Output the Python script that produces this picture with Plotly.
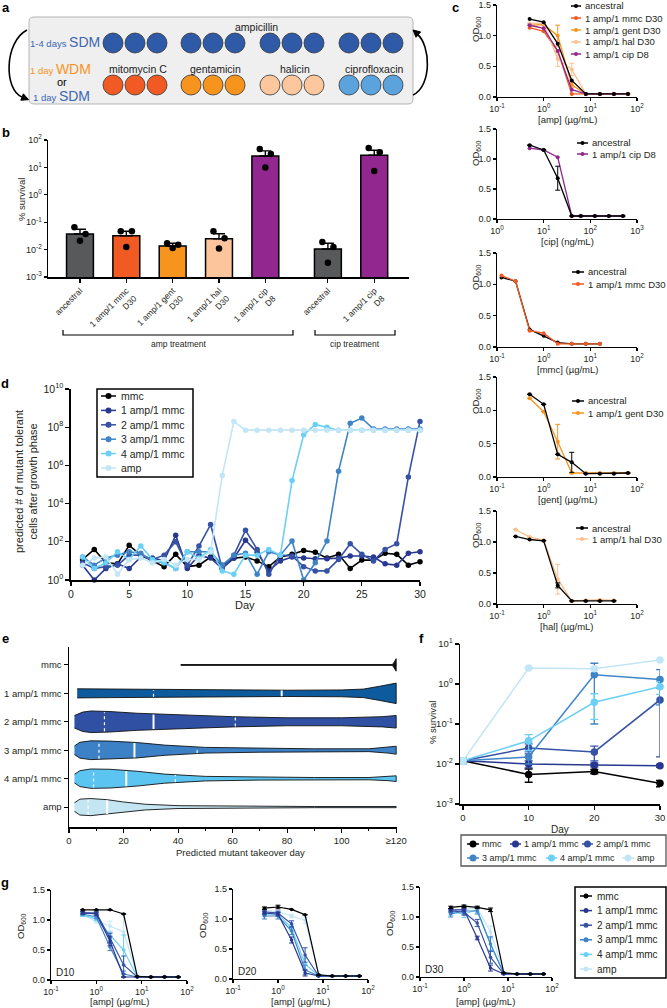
import plotly.graph_objects as go
import numpy as np

W, H = 667, 1008
FONT = "Liberation Sans, Arial, Helvetica, sans-serif"
INK = "#231f20"

# ======================= DATA =======================
# (a) schematic
a_top_label = "ampicillin"
a_bottom_labels = ["mitomycin C", "gentamicin", "halicin", "ciprofloxacin"]
a_bottom_colors = ["#f15a22", "#f7941d", "#fdc79d", "#5aa3dc"]
a_top_color = "#2e5aa8"

# (b) % survival
b_labels = ["ancestral", "1 amp/1 mmc<br>D30", "1 amp/1 gent<br>D30", "1 amp/1 hal<br>D30",
            "1 amp/1 cip<br>D8", "ancestral", "1 amp/1 cip<br>D8"]
b_means = [0.037, 0.032, 0.0135, 0.025, 26, 0.0105, 28]
b_err = [0.018, 0.015, 0.0035, 0.013, 14, 0.0065, 14]
b_rep1 = [0.066, 0.047, 0.017, 0.047, 47, 0.019, 51]
b_rep2 = [0.037, 0.047, 0.015, 0.026, 31, 0.0125, 36]
b_rep3 = [0.021, 0.0125, 0.0115, 0.011, 10, 0.0033, 7.4]
b_colors = ["#58595b", "#f15a22", "#f7941d", "#fcc59c", "#92278f", "#58595b", "#92278f"]
b_groups = ["amp treatment", "cip treatment"]

# (c) OD600 dose responses
c_amp_conc = [0.5, 1, 2, 4, 8, 16, 32, 64]
c_amp_ancestral = [1.27, 1.22, 0.87, 0.27, 0.05, 0.05, 0.05, 0.05]
c_amp_mmc = [1.13, 1.07, 0.75, 0.05, 0.05, 0.05, 0.05, 0.05]
c_amp_gent = [1.17, 1.18, 1.00, 0.20, 0.05, 0.05, 0.05, 0.05]
c_amp_gent_err = [0, 0, 0.17, 0.04, 0, 0, 0, 0]
c_amp_hal = [1.20, 1.20, 0.62, 0.45, 0.05, 0.05, 0.05, 0.05]
c_amp_hal_err = [0, 0, 0.12, 0.10, 0, 0, 0, 0]
c_amp_cip = [1.17, 1.12, 0.75, 0.12, 0.05, 0.05, 0.05, 0.05]

c_cip_conc = [5, 10, 20, 40, 62.5, 125, 250, 500]
c_cip_ancestral = [1.23, 1.15, 0.68, 0.05, 0.05, 0.05, 0.05, 0.05]
c_cip_ancestral_err = [0, 0, 0.20, 0, 0, 0, 0, 0]
c_cip_cip = [1.18, 1.15, 1.03, 0.05, 0.05, 0.05, 0.05, 0.05]

c_mmc_conc = [0.125, 0.25, 0.5, 1, 2, 4, 8, 16]
c_mmc_ancestral = [1.11, 1.05, 0.28, 0.18, 0.07, 0.05, 0.05, 0.05]
c_mmc_mmc = [1.14, 1.05, 0.26, 0.22, 0.05, 0.05, 0.05, 0.05]

c_gent_conc = [0.5, 1, 2, 4, 8, 16, 32, 64]
c_gent_ancestral = [1.24, 1.09, 0.34, 0.22, 0.05, 0.05, 0.05, 0.06]
c_gent_ancestral_err = [0, 0, 0, 0.15, 0, 0, 0, 0]
c_gent_gent = [1.18, 0.98, 0.53, 0.06, 0.06, 0.06, 0.06, 0.06]
c_gent_gent_err = [0, 0, 0.26, 0, 0, 0, 0, 0]

c_hal_conc = [0.25, 0.5, 1, 2, 4, 8, 16, 32]
c_hal_ancestral = [1.09, 1.04, 1.02, 0.30, 0.05, 0.05, 0.05, 0.05]
c_hal_ancestral_err = [0, 0, 0, 0.04, 0, 0, 0, 0]
c_hal_hal = [1.20, 1.08, 1.03, 0.40, 0.05, 0.06, 0.07, 0.06]
c_hal_hal_err = [0, 0, 0, 0.24, 0, 0, 0, 0]

c_colors = {"ancestral": "#000000", "mmc": "#f15a22", "gent": "#f7941d",
            "hal": "#fbc08f", "cip": "#92278f"}

# (d) predicted number of mutant tolerant cells
d_days = list(range(1, 31))
d_mmc = [12, 40, 8, 7, 65, 20, 10, 5, 22, 5, 6, 16, 6, 14, 16, 10, 5, 16, 22, 35,
         28, 14, 22, 4, 11, 11, 25, 22, 6, 9]
d_1amp = [6, 1, 4, 7, 4, 16, 14, 10, 220, 4, 20, 14, 4, 14, 120, 28, 3, 10, 16, 14,
          13, 13, 14, 18, 18, 16, 7, 6, 25, 30]
d_2amp = [8, 4, 5, 6, 20, 20, 12, 20, 100, 6, 60, 800, 4, 20, 400, 40, 2, 20, 18, 5,
          3, 3, 12, 80, 22, 10, 40, 80, 2.5e5, 2e8]
d_3amp = [16, 6, 14, 20, 30, 25, 10, 8, 4, 30, 30, 30, 6, 20, 25, 2, 30, 20, 110, 1,
          8, 110, 5e5, 1.6e8, 3e8, 8e7, 8e7, 8e7, 8e7, 8e7]
d_4amp = [16, 4, 8, 30, 12, 60, 12, 8, 4, 30, 14, 40, 3, 2, 20, 20, 40, 20, 1.6e5, 4e7,
          1.4e8, 1e8, 7e7, 7e7, 7e7, 7e7, 7e7, 7e7, 7e7, 7e7]
d_amp = [6, 14, 16, 2, 12, 14, 8, 12, 6, 12, 12, 30, 3e5, 2e8, 7e7, 7e7, 7e7, 7e7, 7e7, 7e7,
         7e7, 7e7, 7e7, 7e7, 7e7, 7e7, 7e7, 7e7, 7e7, 7e7]
series_names = ["mmc", "1 amp/1 mmc", "2 amp/1 mmc", "3 amp/1 mmc", "4 amp/1 mmc", "amp"]
series_colors = ["#000000", "#283891", "#3652a5", "#3e84c6", "#6ccff6", "#c2e6f6"]

# (e) violin profiles (day, half-width in row units)
e_rows = ["mmc", "1 amp/1 mmc", "2 amp/1 mmc", "3 amp/1 mmc", "4 amp/1 mmc", "amp"]
e_colors = ["#111111", "#0d5a9c", "#3050a4", "#3c80c6", "#5cc4f0", "#c4e5f2"]
e_mmc_day = [41, 118.6, 119.3, 119.8, 120]
e_mmc_hw = [0.012, 0.012, 0.10, 0.19, 0.22]
e_1amp_day = [3, 15, 40, 80, 100, 108, 114, 118, 120]
e_1amp_hw = [0.16, 0.15, 0.12, 0.11, 0.12, 0.15, 0.25, 0.33, 0.36]
e_2amp_day = [2, 5, 8, 15, 25, 40, 60, 80, 100, 115, 120]
e_2amp_hw = [0.22, 0.34, 0.38, 0.36, 0.30, 0.24, 0.18, 0.14, 0.14, 0.18, 0.22]
e_3amp_day = [2, 4, 8, 15, 25, 35, 50, 70, 90, 110, 117, 120]
e_3amp_hw = [0.15, 0.28, 0.33, 0.32, 0.27, 0.18, 0.10, 0.07, 0.05, 0.05, 0.10, 0.14]
e_4amp_day = [2, 4, 8, 15, 25, 35, 50, 70, 90, 110, 117, 120]
e_4amp_hw = [0.15, 0.28, 0.34, 0.33, 0.26, 0.16, 0.08, 0.05, 0.04, 0.04, 0.07, 0.10]
e_amp_day = [2, 4, 8, 14, 20, 28, 40, 60, 90, 120]
e_amp_hw = [0.15, 0.28, 0.30, 0.26, 0.18, 0.10, 0.05, 0.03, 0.02, 0.02]
e_q1 = [None, 31, 13, 11, 9, 7]
e_median = [None, 78, 31, 24, 21, 14]
e_q3 = [None, None, 61, 47, 39, None]
e_xticks = [0, 20, 40, 60, 80, 100, 120]
e_xticktext = ["0", "20", "40", "60", "80", "100", "≥120"]

# (f) % survival over time
f_days = [0, 10, 20, 30]
f_mmc = [0.012, 0.0055, 0.0065, 0.0033]
f_mmc_err = [0.002, 0.002, 0.0008, 0.0006]
f_1amp = [0.012, 0.0100, 0.0095, 0.0090]
f_1amp_err = [0.002, 0.002, 0.001, 0.0008]
f_2amp = [0.012, 0.025, 0.020, 0.40]
f_2amp_err = [0.002, 0.007, 0.008, 0.385]
f_3amp = [0.012, 0.015, 1.7, 1.3]
f_3amp_err = [0.002, 0.005, 1.6, 1.0]
f_4amp = [0.012, 0.038, 0.35, 0.85]
f_4amp_err = [0.002, 0.016, 0.22, 0.3]
f_amp = [0.012, 2.5, 2.4, 4.0]
f_amp_err = [0.002, 0.1, 0.1, 0.1]

# (g) OD600 vs [amp] at D10 / D20 / D30
g_conc = [0.5, 1, 2, 4, 8, 16, 32, 64]
g_d10 = [
    [1.17, 1.17, 1.17, 1.10, 0.06, 0.05, 0.05, 0.05],
    [1.12, 1.10, 0.65, 0.05, 0.05, 0.05, 0.05, 0.05],
    [1.12, 1.12, 0.70, 0.25, 0.05, 0.05, 0.06, 0.05],
    [1.10, 1.05, 0.55, 0.10, 0.05, 0.05, 0.05, 0.05],
    [1.08, 1.02, 0.75, 0.50, 0.05, 0.05, 0.05, 0.05],
    [1.08, 0.98, 0.90, 0.80, 0.07, 0.05, 0.05, 0.05],
]
g_d10_err = [
    [0, 0, 0, 0, 0, 0, 0, 0],
    [0.02, 0.02, 0.08, 0, 0, 0, 0, 0],
    [0.02, 0.02, 0.08, 0.15, 0, 0, 0, 0],
    [0.02, 0.03, 0.06, 0.05, 0, 0, 0, 0],
    [0.02, 0.03, 0.05, 0.25, 0, 0, 0, 0],
    [0.02, 0.03, 0.08, 0.30, 0, 0, 0, 0],
]
g_d20 = [
    [1.18, 1.20, 1.16, 1.07, 0.07, 0.05, 0.05, 0.05],
    [1.10, 1.08, 0.65, 0.10, 0.05, 0.05, 0.05, 0.05],
    [1.12, 1.10, 0.92, 0.40, 0.05, 0.05, 0.05, 0.05],
    [1.05, 1.05, 0.80, 0.15, 0.05, 0.05, 0.05, 0.05],
    [1.08, 1.08, 0.85, 0.25, 0.05, 0.05, 0.05, 0.05],
    [1.15, 1.12, 1.05, 0.98, 0.08, 0.05, 0.05, 0.05],
]
g_d20_err = [
    [0.02, 0.03, 0, 0, 0, 0, 0, 0],
    [0.03, 0.03, 0.05, 0.05, 0, 0, 0, 0],
    [0.03, 0.03, 0.05, 0.12, 0, 0, 0, 0],
    [0.05, 0.05, 0.06, 0.08, 0, 0, 0, 0],
    [0.03, 0.03, 0.05, 0.10, 0, 0, 0, 0],
    [0.02, 0.02, 0.03, 0.05, 0, 0, 0, 0],
]
g_d30 = [
    [1.16, 1.18, 1.16, 1.12, 0.07, 0.05, 0.05, 0.05],
    [1.12, 1.12, 0.65, 0.15, 0.05, 0.05, 0.05, 0.05],
    [1.10, 1.08, 0.90, 0.33, 0.05, 0.05, 0.05, 0.05],
    [1.05, 1.10, 1.10, 0.55, 0.06, 0.05, 0.05, 0.05],
    [1.08, 1.05, 1.12, 0.55, 0.06, 0.05, 0.05, 0.05],
    [1.10, 1.12, 1.15, 0.75, 0.08, 0.05, 0.05, 0.05],
]
g_d30_err = [
    [0.02, 0.02, 0.02, 0.03, 0, 0, 0, 0],
    [0.02, 0.02, 0.03, 0.05, 0, 0, 0, 0],
    [0.03, 0.05, 0.06, 0.10, 0, 0, 0, 0],
    [0.05, 0.05, 0.05, 0.12, 0, 0, 0, 0],
    [0.05, 0.06, 0.05, 0.10, 0, 0, 0, 0],
    [0.02, 0.02, 0.03, 0.10, 0, 0, 0, 0],
]
g_day_labels = ["D10", "D20", "D30"]

# ======================= HELPERS =======================
def X(px):
    return px / W


def Y(py):
    return 1 - py / H


def P(x, y):
    return f"{X(x):.5f},{Y(y):.5f}"


shapes = []
annotations = []
layout_axes = {}
fig = go.Figure()


def txt(x, y, s, size=9.5, color=INK, xanchor="center", yanchor="middle", angle=0):
    annotations.append(dict(x=X(x), y=Y(y), xref="paper", yref="paper", text=s, showarrow=False,
                            font=dict(family=FONT, size=size, color=color), xanchor=xanchor,
                            yanchor=yanchor, textangle=angle, borderpad=0))


def line_px(x0, y0, x1, y1, color=INK, width=1.3, dash=None):
    shapes.append(dict(type="line", xref="paper", yref="paper", x0=X(x0), y0=Y(y0), x1=X(x1),
                       y1=Y(y1), line=dict(color=color, width=width, dash=dash)))


def circle_px(cx, cy, r, fill, line_color=None, lw=0):
    shapes.append(dict(type="circle", xref="paper", yref="paper", x0=X(cx - r), x1=X(cx + r),
                       y0=Y(cy + r), y1=Y(cy - r), fillcolor=fill,
                       line=dict(color=line_color or fill, width=lw)))


def path_px(path, fill=None, color=INK, width=1.3):
    shapes.append(dict(type="path", xref="paper", yref="paper", path=path,
                       fillcolor=fill if fill else "rgba(0,0,0,0)",
                       line=dict(color=color, width=width)))


def rect_px(x0, y0, x1, y1, color=INK, width=1.3, fill=None):
    shapes.append(dict(type="rect", xref="paper", yref="paper", x0=X(x0), x1=X(x1), y0=Y(y1),
                       y1=Y(y0), line=dict(color=color, width=width),
                       fillcolor=fill if fill else "rgba(0,0,0,0)"))


def legend_item(xs0, xs1, y, color, name, fs=9.5, r=2.2, tx=None):
    line_px(xs0, y, xs1, y, color=color, width=1.5)
    circle_px((xs0 + xs1) / 2, y, r, color)
    txt(xs1 + 3 if tx is None else tx, y, name, size=fs, xanchor="left")


def ref(n):
    return ("x", "y") if n == 1 else (f"x{n}", f"y{n}")


def add_axes(n, xpx, ypx, xkw, ykw, fs=9, lw=1.3):
    xn = "xaxis" if n == 1 else f"xaxis{n}"
    yn = "yaxis" if n == 1 else f"yaxis{n}"
    xr, yr = ref(n)
    base = dict(showline=True, linecolor="black", linewidth=lw, ticks="outside", ticklen=3,
                tickwidth=1.1, tickcolor="black", showgrid=False, zeroline=False, automargin=False,
                ticklabeloverflow="allow",
                tickfont=dict(family=FONT, size=fs, color=INK), fixedrange=True)
    xa = dict(base)
    xa.update(domain=[X(xpx[0]), X(xpx[1])], anchor=yr)
    xa.update(xkw)
    ya = dict(base)
    ya.update(domain=[Y(ypx[1]), Y(ypx[0])], anchor=xr)
    ya.update(ykw)
    layout_axes[xn] = xa
    layout_axes[yn] = ya


def sup_ticks(lo, hi, step=1):
    ks = list(range(lo, hi + 1, step))
    return [10.0 ** k for k in ks], [f"10<sup>{k}</sup>" for k in ks]


def logx(lo, hi):
    v, t = sup_ticks(lo, hi)
    return dict(type="log", range=[lo, hi], tickmode="array", tickvals=v, ticktext=t)


OD_Y = dict(range=[0, 1.5], tickmode="array", tickvals=[0, 0.5, 1.0, 1.5],
            ticktext=["0.0", "0.5", "1.0", "1.5"])


def curve(n, x, y, color, err=None, msize=4, width=1.3):
    xr, yr = ref(n)
    kw = {}
    if err is not None:
        kw["error_y"] = dict(type="data", array=err, color=color, thickness=1, width=2.5)
    fig.add_trace(go.Scatter(x=x, y=y, mode="lines+markers", line=dict(color=color, width=width),
                             marker=dict(color=color, size=msize), xaxis=xr, yaxis=yr,
                             showlegend=False, cliponaxis=False, hoverinfo="skip", **kw))


# ======================= PANEL LABELS =======================
for lab, (lx, ly) in zip("abcdefg", [(6, 8), (6, 133), (455, 8), (5, 383), (5, 638), (421, 638), (5, 882)]):
    txt(lx, ly, f"<b>{lab}</b>", size=13, color="black")

# ======================= (a) schematic =======================
bx0, by0, bx1, by1, rr = 29, 17, 413, 104, 5
path_px(f"M {P(bx0 + rr, by0)} L {P(bx1 - rr, by0)} Q {P(bx1, by0)} {P(bx1, by0 + rr)} "
        f"L {P(bx1, by1 - rr)} Q {P(bx1, by1)} {P(bx1 - rr, by1)} L {P(bx0 + rr, by1)} "
        f"Q {P(bx0, by1)} {P(bx0, by1 - rr)} L {P(bx0, by0 + rr)} Q {P(bx0, by0)} {P(bx0 + rr, by0)} Z",
        fill="#efefef", color="#b5b5b5", width=1)
group_cx = [135, 213, 292, 371]
for gi, gcx in enumerate(group_cx):
    for off in (-22, 0, 22):
        circle_px(gcx + off, 43, 10, a_top_color, "#333333", 0.8)
        circle_px(gcx + off, 85, 10, a_bottom_colors[gi], "#333333", 0.8)
    txt(gcx + 3, 69, a_bottom_labels[gi], size=10.5, color="#1a1a1a")
txt(256, 27, a_top_label, size=10.5, color="#1a1a1a")
BLUE_T, ORANGE_T = "#3a67b5", "#f7941d"
txt(101, 42, f"<span style='font-size:9.5px'>1-4 days </span><span style='font-size:14px'>SDM</span>",
    color=BLUE_T, xanchor="right")
txt(92, 69, f"<span style='font-size:9.5px'>1 day </span><span style='font-size:14px'>WDM</span>",
    color=ORANGE_T, xanchor="right")
txt(62, 82, "or", size=11, color="black")
txt(91, 96, f"<span style='font-size:9.5px'>1 day </span><span style='font-size:14px'>SDM</span>",
    color=BLUE_T, xanchor="right")
# cycle arrows
path_px(f"M {P(27, 30)} C {P(4, 42)} {P(4, 90)} {P(22, 97)}", color="black", width=1.6)
path_px(f"M {P(28.5, 99.7)} L {P(20.8, 100.2)} L {P(23.4, 93.8)} Z", fill="black", color="black", width=1)
path_px(f"M {P(413, 95)} C {P(432, 86)} {P(431, 45)} {P(417, 34)}", color="black", width=1.6)
path_px(f"M {P(413, 30)} L {P(420.6, 31.9)} L {P(416.0, 37.3)} Z", fill="black", color="black", width=1)

# ======================= (b) bar chart =======================
b_pos = [0, 1, 2, 3, 4, 5.35, 6.35]
bv, bt = sup_ticks(-3, 2)
add_axes(1, (48, 409), (140, 277),
         dict(range=[-0.69, 7.1], tickmode="array", tickvals=b_pos, ticktext=b_labels, tickangle=-45,
              tickfont=dict(family=FONT, size=8.5, color=INK), ticklen=4),
         dict(type="log", range=[-3, 2], tickmode="array", tickvals=bv, ticktext=bt), lw=1.5)
fig.add_trace(go.Bar(x=b_pos, y=b_means, width=0.58, marker=dict(color=b_colors, line=dict(color="black", width=1.5)),
                     error_y=dict(type="data", array=b_err, arrayminus=[0] * len(b_err), symmetric=False,
                                  color="black", thickness=1.4, width=6),
                     xaxis="x", yaxis="y", showlegend=False, hoverinfo="skip"))
for reps, off in ((b_rep1, -0.12), (b_rep2, 0.12), (b_rep3, 0.0)):
    fig.add_trace(go.Scatter(x=[p + off for p in b_pos], y=reps, mode="markers",
                             marker=dict(color="black", size=6.5), xaxis="x", yaxis="y",
                             showlegend=False, hoverinfo="skip", cliponaxis=False))
txt(22, 200, "% survival", size=9.5, angle=-90)
# treatment brackets
for (x0, x1), name in zip(((63, 293), (315, 395)), b_groups):
    path_px(f"M {P(x0, 330)} L {P(x0, 335)} L {P(x1, 335)} L {P(x1, 330)}", color="black", width=1.2)
    txt((x0 + x1) / 2, 344, name, size=8.5)

# ======================= (c) dose responses =======================
c_boxes = [(2, (5, 97)), (3, (129, 219)), (4, (253, 347)), (5, (377, 477)), (6, (511, 604))]
c_xr = {2: (-1, 2), 3: (0, 3), 4: (-1, 2), 5: (-1, 2), 6: (-1, 2)}
c_titles = {2: "[amp] (µg/mL)", 3: "[cip] (ng/mL)", 4: "[mmc] (µg/mL)", 5: "[gent] (µg/mL)", 6: "[hal] (µg/mL)"}
for n, (yt, yb) in c_boxes:
    add_axes(n, (497, 637), (yt, yb), logx(*c_xr[n]), dict(OD_Y), fs=9)
    txt(567, yb + 22, c_titles[n], size=9.5)
    txt(476, yt + 24, "OD<sub>600</sub>", size=9.5, angle=-90)

curve(2, c_amp_conc, c_amp_mmc, c_colors["mmc"])
curve(2, c_amp_conc, c_amp_gent, c_colors["gent"], err=c_amp_gent_err)
curve(2, c_amp_conc, c_amp_hal, c_colors["hal"], err=c_amp_hal_err)
curve(2, c_amp_conc, c_amp_cip, c_colors["cip"])
curve(2, c_amp_conc, c_amp_ancestral, c_colors["ancestral"])
curve(3, c_cip_conc, c_cip_cip, c_colors["cip"])
curve(3, c_cip_conc, c_cip_ancestral, c_colors["ancestral"], err=c_cip_ancestral_err)
curve(4, c_mmc_conc, c_mmc_ancestral, c_colors["ancestral"])
curve(4, c_mmc_conc, c_mmc_mmc, c_colors["mmc"])
curve(5, c_gent_conc, c_gent_gent, c_colors["gent"], err=c_gent_gent_err)
curve(5, c_gent_conc, c_gent_ancestral, c_colors["ancestral"], err=c_gent_ancestral_err)
curve(6, c_hal_conc, c_hal_hal, c_colors["hal"], err=c_hal_hal_err)
curve(6, c_hal_conc, c_hal_ancestral, c_colors["ancestral"], err=c_hal_ancestral_err)

# c legends
c1_leg = [("ancestral", "ancestral"), ("1 amp/1 mmc D30", "mmc"), ("1 amp/1 gent D30", "gent"),
          ("1 amp/1 hal D30", "hal"), ("1 amp/1 cip D8", "cip")]
for (name, key), yy in zip(c1_leg, [6, 18, 30, 42, 54]):
    legend_item(571, 581, yy, c_colors[key], name, fs=9.5, r=2)
for (name, key), yy in zip([("ancestral", "ancestral"), ("1 amp/1 cip D8", "cip")], [143, 154]):
    legend_item(577, 588, yy, c_colors[key], name, fs=9.5, r=2)
for (name, key), yy in zip([("ancestral", "ancestral"), ("1 amp/1 mmc D30", "mmc")], [272, 284]):
    legend_item(572, 584, yy, c_colors[key], name, fs=9.5, r=2)
for (name, key), yy in zip([("ancestral", "ancestral"), ("1 amp/1 gent D30", "gent")], [401, 413]):
    legend_item(572, 584, yy, c_colors[key], name, fs=9.5, r=2)
for (name, key), yy in zip([("ancestral", "ancestral"), ("1 amp/1 hal D30", "hal")], [528, 539]):
    legend_item(576, 588, yy, c_colors[key], name, fs=9.5, r=2)

# ======================= (d) mutant trajectories =======================
dv, dt = sup_ticks(0, 10, 2)
add_axes(7, (71, 420), (389, 580),
         dict(range=[0, 30], tickmode="array", tickvals=[0, 5, 10, 15, 20, 25, 30], ticklen=4),
         dict(type="log", range=[0, 10], tickmode="array", tickvals=dv, ticktext=dt, ticklen=4),
         fs=10.5, lw=1.6)
for vals, col in zip([d_mmc, d_1amp, d_2amp, d_3amp, d_4amp, d_amp], series_colors):
    fig.add_trace(go.Scatter(x=d_days, y=vals, mode="lines+markers", line=dict(color=col, width=1.6),
                             marker=dict(color=col, size=5.5), xaxis="x7", yaxis="y7",
                             showlegend=False, hoverinfo="skip", cliponaxis=False))
txt(245, 605, "Day", size=11)
txt(26, 482, "predicted # of mutant tolerant<br>cells after growth phase", size=11, angle=-90)
rect_px(97, 389, 193, 477, color="black", width=1.5, fill="white")
for i, (name, col) in enumerate(zip(series_names, series_colors)):
    legend_item(101, 116, 396 + i * 14.4, col, name, fs=10.5, r=3, tx=120)

# ======================= (e) violins =======================
e_profiles = [(e_mmc_day, e_mmc_hw), (e_1amp_day, e_1amp_hw), (e_2amp_day, e_2amp_hw),
              (e_3amp_day, e_3amp_hw), (e_4amp_day, e_4amp_hw), (e_amp_day, e_amp_hw)]
nrows = len(e_rows)
add_axes(8, (69, 397), (647, 827),
         dict(range=[0, 120.3], tickmode="array", tickvals=e_xticks, ticktext=e_xticktext, ticklen=4,
              minor=dict(tickmode="array", tickvals=[10, 30, 50, 70, 90, 110], ticks="outside", ticklen=2.5,
                         tickcolor="black")),
         dict(range=[-0.7, 5.63], tickmode="array", tickvals=list(range(nrows)),
              ticktext=e_rows[::-1], ticklen=4), fs=9.5, lw=1.5)
for i, ((days, hw), col) in enumerate(zip(e_profiles, e_colors)):
    c = nrows - 1 - i
    days = np.array(days, float)
    hw = np.array(hw, float)
    if i == 0:
        fig.add_trace(go.Scatter(x=[days[0], days[-1]], y=[c, c], mode="lines",
                                 line=dict(color="#666666", width=1.5), xaxis="x8", yaxis="y8",
                                 showlegend=False, hoverinfo="skip"))
    xs = np.concatenate([days, days[::-1]])
    ys = np.concatenate([c + hw, (c - hw)[::-1]])
    fig.add_trace(go.Scatter(x=xs, y=ys, mode="lines", fill="toself", fillcolor=col,
                             line=dict(color="#111111", width=0.9), xaxis="x8", yaxis="y8",
                             showlegend=False, hoverinfo="skip"))
    for q, style in ((e_q1[i], "dot"), (e_median[i], "solid"), (e_q3[i], "dot")):
        if q is None:
            continue
        h = float(np.interp(q, days, hw)) * 0.92
        fig.add_trace(go.Scatter(x=[q, q], y=[c - h, c + h], mode="lines",
                                 line=dict(color="white", width=2 if style == "solid" else 1.2, dash=style),
                                 xaxis="x8", yaxis="y8", showlegend=False, hoverinfo="skip"))
txt(240, 852, "Predicted mutant takeover day", size=9.5)

# ======================= (f) survival over time =======================
fv, ft = sup_ticks(-3, 1)
add_axes(9, (460, 660), (644, 804),
         dict(range=[-0.45, 30], tickmode="array", tickvals=[0, 10, 20, 30], ticklen=4),
         dict(type="log", range=[-3, 1], tickmode="array", tickvals=fv, ticktext=ft, ticklen=4),
         fs=9.5, lw=1.5)
f_vals = [(f_mmc, f_mmc_err), (f_1amp, f_1amp_err), (f_2amp, f_2amp_err), (f_3amp, f_3amp_err),
          (f_4amp, f_4amp_err), (f_amp, f_amp_err)]
for (vals, err), col in zip(f_vals, series_colors):
    fig.add_trace(go.Scatter(x=f_days, y=vals, mode="lines+markers", line=dict(color=col, width=1.5),
                             marker=dict(color=col, size=7.5),
                             error_y=dict(type="data", array=err, color=col, thickness=1.3, width=4),
                             xaxis="x9", yaxis="y9", showlegend=False, hoverinfo="skip", cliponaxis=False))
txt(560, 829, "Day", size=10)
txt(432, 722, "% survival", size=9.5, angle=-90)
rect_px(461, 835, 666, 866, color="#555555", width=1.3, fill="white")
f_leg_pos = [(467, 479, 844), (510, 521, 844), (582, 593, 844), (467, 479, 858), (546, 557, 858), (622, 634, 858)]
for (xs0, xs1, yy), name, col in zip(f_leg_pos, series_names, series_colors):
    legend_item(xs0, xs1, yy, col, name, fs=9, r=3.5, tx=xs1 + 1.5)

# ======================= (g) OD600 at D10/D20/D30 =======================
g_boxes = [(10, (51, 187), (890, 980)), (11, (233, 368), (889, 979)), (12, (420, 552), (887, 977))]
for (n, xpx, ypx), vals, errs, dl in zip(g_boxes, [g_d10, g_d20, g_d30], [g_d10_err, g_d20_err, g_d30_err],
                                          g_day_labels):
    add_axes(n, xpx, ypx, logx(-1, 2), dict(OD_Y), fs=9)
    for k in range(len(series_names) - 1, -1, -1):
        curve(n, g_conc, vals[k], series_colors[k], err=errs[k], msize=3.5, width=1.2)
    txt((xpx[0] + xpx[1]) / 2, 1001, "[amp] (µg/mL)", size=9.5)
    txt(xpx[0] - 30, ypx[0] + 36, "OD<sub>600</sub>", size=9.5, angle=-90)
    txt(xpx[0] + 4, ypx[1] - 8, dl, size=10, xanchor="left")
rect_px(575, 887, 666, 978, color="black", width=1.5, fill="white")
for i, (name, col) in enumerate(zip(series_names, series_colors)):
    legend_item(580, 592, 896 + i * 14.6, col, name, fs=10, r=2.5, tx=596)

# ======================= LAYOUT =======================
fig.update_layout(width=W, height=H, autosize=False, margin=dict(l=0, r=0, t=0, b=0, autoexpand=False),
                  paper_bgcolor="white", plot_bgcolor="rgba(0,0,0,0)", showlegend=False,
                  font=dict(family=FONT, size=9.5, color=INK), bargap=0,
                  shapes=shapes, annotations=annotations, **layout_axes)
fig.write_html("out.html", config={"displayModeBar": False, "staticPlot": True},
               post_script="document.documentElement.style.margin='0';document.body.style.margin='0';"
                           "document.body.style.padding='0';document.body.style.overflow='hidden';")
